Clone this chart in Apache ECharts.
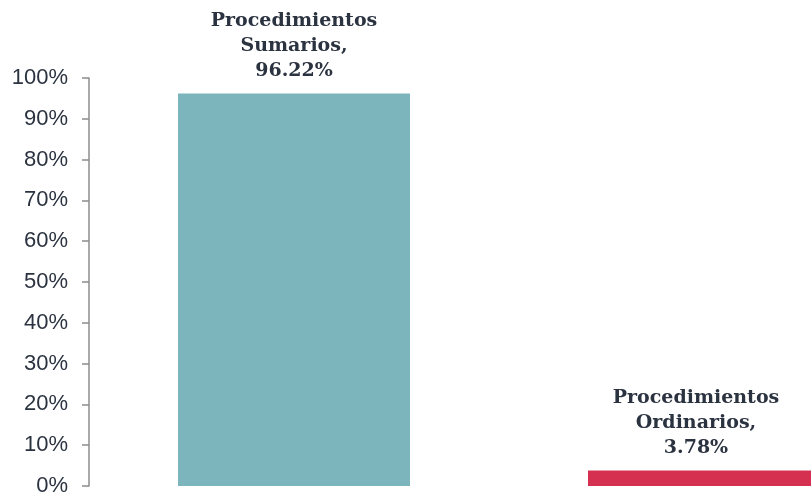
<!DOCTYPE html>
<html>
<head>
<meta charset="utf-8">
<script src="https://cdn.jsdelivr.net/npm/echarts@6/dist/echarts.min.js"></script>
<style>
  html, body { margin: 0; padding: 0; background: #fff; }
  #chart { width: 811px; height: 493px; }
</style>
</head>
<body>
<div id="chart"></div>
<script>
// datos del gráfico
var categories = ['Procedimientos\nSumarios', 'Procedimientos\nOrdinarios'];
var values = [96.22, 3.78];
var barColors = ['#7db5bc', '#d63050'];
var yTicks = [0, 10, 20, 30, 40, 50, 60, 70, 80, 90, 100];

var myChart = echarts.init(document.getElementById('chart'));
var option = {
  animation: false,
  grid: {
    left: 89,
    right: -98,
    top: 78,
    bottom: 7,
    outerBoundsMode: 'none'
  },
  xAxis: {
    type: 'category',
    data: categories,
    show: false
  },
  yAxis: {
    type: 'value',
    min: yTicks[0],
    max: yTicks[yTicks.length - 1],
    interval: 10,
    splitLine: { show: false },
    axisLine: {
      show: true,
      lineStyle: { color: '#8c8c8c', width: 1.5 }
    },
    axisTick: {
      show: true,
      length: 7,
      lineStyle: { color: '#8c8c8c', width: 1.5 }
    },
    axisLabel: {
      margin: 21,
      color: '#2b3340',
      fontFamily: 'Liberation Sans',
      fontSize: 22,
      formatter: '{value}%'
    }
  },
  series: [{
    type: 'bar',
    barWidth: 232,
    data: values.map(function (v, i) {
      return {
        value: v,
        itemStyle: { color: barColors[i] },
        label: { offset: i === 1 ? [-8, 0] : [0, 0] }
      };
    }),
    label: {
      show: true,
      position: 'top',
      distance: 10,
      color: '#2b3340',
      fontFamily: 'DejaVu Serif',
      fontWeight: 'bold',
      fontSize: 19,
      lineHeight: 25,
      align: 'center',
      formatter: function (p) {
        return p.name + ',\n' + p.value.toFixed(2) + '%';
      }
    }
  }]
};
myChart.setOption(option);
</script>
</body>
</html>
